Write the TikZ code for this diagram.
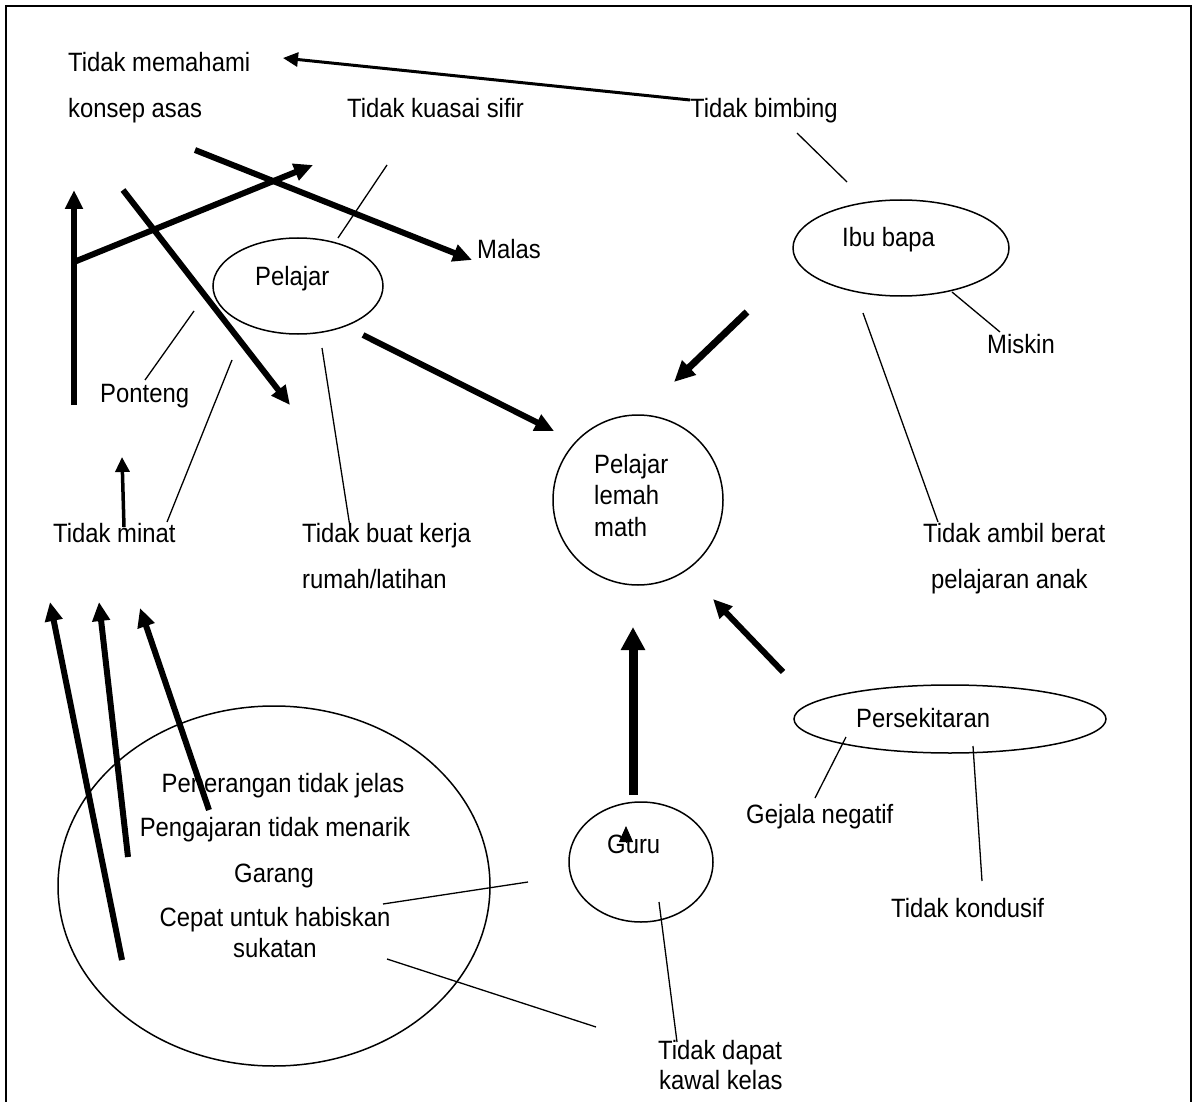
\documentclass[tikz,border=0pt]{standalone}
\usepackage{fontspec}
\setmainfont{Liberation Sans}[FakeStretch=0.9]
\usetikzlibrary{arrows.meta,shapes.geometric}
\tikzset{
  lbl/.style={anchor=base west, inner sep=0pt, font=\fontsize{26.5pt}{31pt}\selectfont},
  clbl/.style={lbl, anchor=base},
  oval/.style={draw, ellipse, line width=1.5pt, inner sep=0pt},
  conn/.style={line width=1.3pt},
  fatarrow/.style={line width=6pt, -{Triangle[length=19pt,width=17pt]}},
  slimarrow/.style={line width=3.2pt, -{Triangle[length=15pt,width=14pt]}},
}
\begin{document}
\begin{tikzpicture}[x=1pt,y=-1pt]
\useasboundingbox (0,0) rectangle (1192,1102);
% frame
\draw[line width=2pt] (5.5,1120) -- (5.5,6) -- (1191,6) -- (1191,1120);

% ellipses
\node[oval, minimum width=170pt, minimum height=96pt] (pelajarE) at (298,286) {};
\node[oval, minimum width=216pt, minimum height=96pt] (ibuE) at (901,248) {};
\node[oval, minimum width=170pt, minimum height=170pt] (lemahE) at (638,500) {};
\node[oval, minimum width=312pt, minimum height=68pt] (perE) at (950,719) {};
\node[oval, minimum width=144pt, minimum height=120pt] (guruE) at (641,862) {};
\node[oval, minimum width=432pt, minimum height=360pt] (bigE) at (274,886) {};

% labels
\node[lbl] (tm1) at (68,72) {Tidak memahami};
\node[lbl] (tm2) at (68,118) {konsep asas};
\node[lbl] (tks) at (347,118) {Tidak kuasai sifir};
\node[lbl] (tbb) at (690,118) {Tidak bimbing};
\node[lbl] (mal) at (477,259) {Malas};
\node[lbl] (pel) at (255,286) {Pelajar};
\node[lbl] (ibu) at (842,247) {Ibu bapa};
\node[lbl] (mis) at (987,353) {Miskin};
\node[lbl] (pon) at (100,402) {Ponteng};
\node[lbl] (tmi) at (53,542) {Tidak minat};
\node[lbl] (tbk1) at (302,542) {Tidak buat kerja};
\node[lbl] (tbk2) at (302,588) {rumah/latihan};
\node[lbl] (plm1) at (594,473) {Pelajar};
\node[lbl] (plm2) at (594,504) {lemah};
\node[lbl] (plm3) at (594,536) {math};
\node[lbl] (tab1) at (923,542) {Tidak ambil berat};
\node[lbl] (tab2) at (931,588) {pelajaran anak};
\node[lbl] (per) at (856,727) {Persekitaran};
\node[lbl] (gej) at (746,823) {Gejala negatif};
\node[lbl] (tko) at (891,917) {Tidak kondusif};
\node[lbl] (guru) at (607,853) {Guru};
\node[lbl] (tdk1) at (658,1059) {Tidak dapat};
\node[lbl] (tdk2) at (659,1089) {kawal kelas};
\node[clbl] (g1) at (283,792) {Penerangan tidak jelas};
\node[clbl] (g2) at (275,836) {Pengajaran tidak menarik};
\node[clbl] (g3) at (274,882) {Garang};
\node[clbl] (g4) at (275,926) {Cepat untuk habiskan};
\node[clbl] (g5) at (275,957) {sukatan};

% connector end points
\coordinate (c1a) at (338,238); \coordinate (c1b) at (387,165);
\coordinate (c2a) at (194,311); \coordinate (c2b) at (145,380);
\coordinate (c3a) at (232,360); \coordinate (c3b) at (167,522);
\coordinate (c4a) at (322,348); \coordinate (c4b) at (350,527);
\coordinate (c5a) at (797,133); \coordinate (c5b) at (847,182);
\coordinate (c6a) at (952,292); \coordinate (c6b) at (1000,332);
\coordinate (c7a) at (863,313); \coordinate (c7b) at (938,522);
\coordinate (c8a) at (846,737); \coordinate (c8b) at (815,798);
\coordinate (c9a) at (973,746); \coordinate (c9b) at (982,881);
\coordinate (c10a) at (659,902); \coordinate (c10b) at (677,1042);
\coordinate (c11a) at (383,904); \coordinate (c11b) at (528,882);
\coordinate (c12a) at (387,959); \coordinate (c12b) at (596,1027);

\draw[conn] (c1a) -- (c1b);
\draw[conn] (c2a) -- (c2b);
\draw[conn] (c3a) -- (c3b);
\draw[conn] (c4a) -- (c4b);
\draw[conn] (c5a) -- (c5b);
\draw[conn] (c6a) -- (c6b);
\draw[conn] (c7a) -- (c7b);
\draw[conn] (c8a) -- (c8b);
\draw[conn] (c9a) -- (c9b);
\draw[conn] (c10a) -- (c10b);
\draw[conn] (c11a) -- (c11b);
\draw[conn] (c12a) -- (c12b);

% arrows
\coordinate (a1s) at (690,100); \coordinate (a1e) at (283,58);
\coordinate (a2s) at (195,150); \coordinate (a2e) at (472,260);
\coordinate (a3s) at (74,405); \coordinate (a3e) at (74,190);
\coordinate (a4s) at (74,262); \coordinate (a4e) at (313,165);
\coordinate (a5s) at (123,190); \coordinate (a5e) at (290,405);
\coordinate (a6s) at (363,335); \coordinate (a6e) at (554,431);
\coordinate (a7s) at (747,312); \coordinate (a7e) at (674,382);
\coordinate (a8s) at (122,960); \coordinate (a8e) at (50,602);
\coordinate (a9s) at (128,857); \coordinate (a9e) at (99,602);
\coordinate (a10s) at (209,810); \coordinate (a10e) at (140,608);
\coordinate (a11s) at (633,795); \coordinate (a11e) at (633,627);
\coordinate (a12s) at (783,672); \coordinate (a12e) at (713,599);
\coordinate (a13s) at (124,527); \coordinate (a13e) at (122,457);
\coordinate (a14s) at (626,843); \coordinate (a14e) at (626,826);

\draw[slimarrow, line width=3pt] (a1s) -- (a1e);
\draw[fatarrow] (a2s) -- (a2e);
\draw[fatarrow, line width=6.5pt] (a3s) -- (a3e);
\draw[fatarrow] (a4s) -- (a4e);
\draw[fatarrow] (a5s) -- (a5e);
\draw[fatarrow] (a6s) -- (a6e);
\draw[fatarrow, line width=7pt, -{Triangle[length=21pt,width=19pt]}] (a7s) -- (a7e);
\draw[fatarrow] (a8s) -- (a8e);
\draw[fatarrow] (a9s) -- (a9e);
\draw[fatarrow] (a10s) -- (a10e);
\draw[fatarrow, line width=9pt, -{Triangle[length=23pt,width=23pt]}] (a11s) -- (a11e);
\draw[fatarrow] (a12s) -- (a12e);
\draw[slimarrow, line width=3.5pt] (a13s) -- (a13e);
\draw[line width=1pt, -{Triangle[length=16pt,width=14pt]}] (a14s) -- (a14e);
\end{tikzpicture}
\end{document}
